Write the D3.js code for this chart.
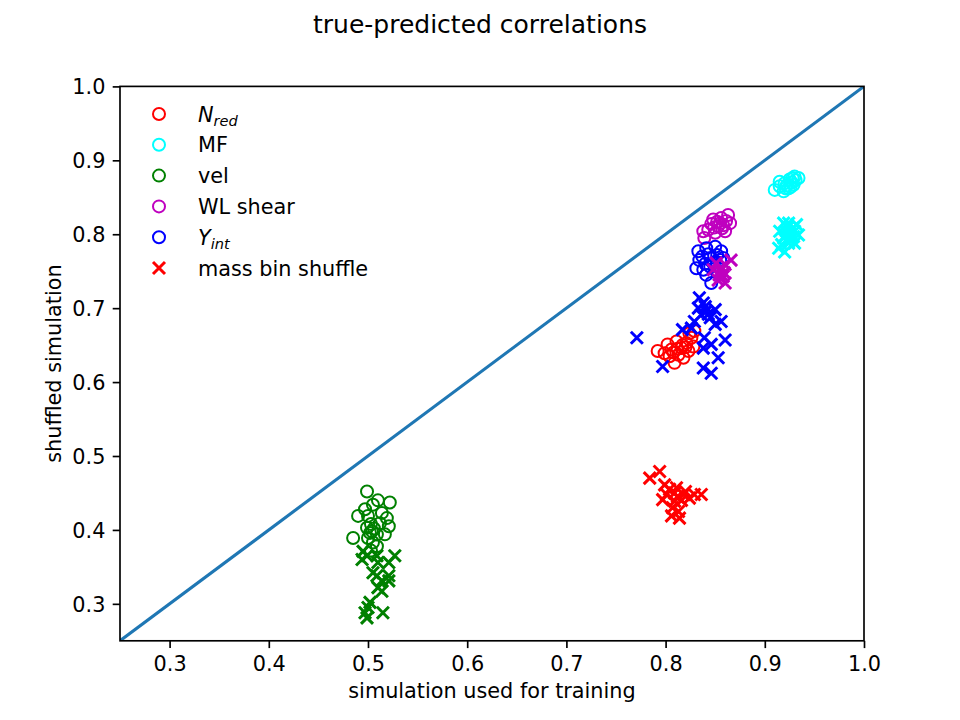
<!DOCTYPE html>
<html><head><meta charset="utf-8">
<script src="https://cdn.jsdelivr.net/npm/d3@7"></script>
<style>body{margin:0;background:#fff}svg{display:block}text{font-family:"DejaVu Sans",sans-serif}</style>
</head><body>
<script>
const xTicks = [0.3,0.4,0.5,0.6,0.7,0.8,0.9,1.0];
const yTicks = [0.3,0.4,0.5,0.6,0.7,0.8,0.9,1.0];
const seriesNames = ["N_red","MF","vel","WL shear","Y_int"];
const seriesColors = ["#ff0000","#00ffff","#008000","#bf00bf","#0000ff"];
// original (circles)
const nredOrig = [[0.792,0.642],[0.799,0.639],[0.809,0.626],[0.804,0.635],[0.802,0.651],[0.811,0.655],[0.816,0.646],[0.821,0.653],[0.828,0.648],[0.823,0.642],[0.813,0.637],[0.826,0.660],[0.829,0.669],[0.824,0.666],[0.806,0.644],[0.818,0.633],[0.812,0.645],[0.817,0.650],[0.808,0.640],[0.820,0.647]];
const mfOrig = [[0.910,0.860],[0.915,0.865],[0.920,0.869],[0.925,0.874],[0.930,0.878],[0.934,0.876],[0.924,0.862],[0.919,0.858],[0.929,0.867],[0.915,0.871],[0.922,0.866],[0.927,0.870],[0.926,0.864],[0.931,0.873],[0.921,0.862],[0.928,0.876]];
const velOrig = [[0.499,0.452],[0.510,0.440],[0.522,0.437],[0.505,0.434],[0.497,0.428],[0.490,0.419],[0.500,0.419],[0.519,0.416],[0.514,0.423],[0.521,0.405],[0.499,0.403],[0.504,0.398],[0.509,0.394],[0.517,0.394],[0.485,0.389],[0.500,0.389],[0.505,0.383],[0.509,0.378],[0.503,0.372],[0.506,0.402],[0.503,0.408],[0.512,0.409],[0.502,0.396]];
const wlOrig = [[0.848,0.820],[0.856,0.822],[0.863,0.826],[0.865,0.815],[0.853,0.811],[0.843,0.806],[0.838,0.804],[0.850,0.802],[0.860,0.804],[0.839,0.795],[0.858,0.812],[0.846,0.814],[0.852,0.817],[0.857,0.808],[0.861,0.818],[0.849,0.809],[0.855,0.815]];
const yintOrig = [[0.833,0.777],[0.841,0.781],[0.850,0.783],[0.856,0.777],[0.834,0.765],[0.845,0.768],[0.855,0.765],[0.831,0.754],[0.838,0.752],[0.845,0.756],[0.851,0.750],[0.846,0.734],[0.841,0.745],[0.858,0.768],[0.843,0.773],[0.849,0.762],[0.837,0.770],[0.852,0.772],[0.840,0.760]];
// mass bin shuffle (crosses)
const nredShuf = [[0.794,0.479],[0.784,0.470],[0.799,0.461],[0.804,0.455],[0.811,0.457],[0.801,0.448],[0.818,0.448],[0.829,0.448],[0.836,0.448],[0.824,0.443],[0.797,0.441],[0.809,0.439],[0.807,0.430],[0.813,0.425],[0.806,0.419],[0.814,0.416],[0.812,0.445],[0.816,0.440],[0.809,0.450],[0.820,0.452]];
const mfShuf = [[0.914,0.781],[0.919,0.815],[0.924,0.815],[0.932,0.813],[0.915,0.804],[0.922,0.804],[0.930,0.804],[0.934,0.799],[0.919,0.795],[0.927,0.795],[0.924,0.788],[0.930,0.788],[0.917,0.786],[0.926,0.800],[0.920,0.776],[0.923,0.809],[0.928,0.808],[0.921,0.799],[0.929,0.797],[0.925,0.792]];
const velShuf = [[0.495,0.371],[0.499,0.365],[0.494,0.360],[0.509,0.365],[0.510,0.356],[0.527,0.365],[0.521,0.356],[0.505,0.342],[0.509,0.338],[0.521,0.338],[0.514,0.331],[0.521,0.331],[0.510,0.322],[0.514,0.317],[0.502,0.302],[0.500,0.295],[0.497,0.288],[0.499,0.281],[0.515,0.288]];
const wlShuf = [[0.866,0.765],[0.860,0.759],[0.855,0.750],[0.858,0.743],[0.853,0.738],[0.860,0.734],[0.848,0.752],[0.851,0.761],[0.856,0.755],[0.854,0.745],[0.859,0.748]];
const yintShuf = [[0.771,0.660],[0.834,0.714],[0.838,0.707],[0.833,0.700],[0.841,0.696],[0.850,0.698],[0.836,0.691],[0.845,0.687],[0.856,0.682],[0.850,0.678],[0.829,0.682],[0.817,0.671],[0.826,0.673],[0.839,0.660],[0.860,0.657],[0.846,0.651],[0.838,0.646],[0.853,0.633],[0.838,0.619],[0.846,0.612],[0.797,0.621],[0.840,0.702],[0.843,0.692]];
const origSets = [nredOrig, mfOrig, velOrig, wlOrig, yintOrig];
const shufSets = [nredShuf, mfShuf, velShuf, wlShuf, yintShuf];

const W = 960, H = 720;
const L = 120, R = 864, T = 86.4, B = 640.8;
const svg = d3.select("body").append("svg").attr("width", W).attr("height", H);
const x = d3.scaleLinear().domain([0.25, 1.0]).range([L, R]);
const y = d3.scaleLinear().domain([0.25, 1.0]).range([B, T]);

svg.append("defs").append("clipPath").attr("id","clip")
  .append("rect").attr("x",L).attr("y",T).attr("width",R-L).attr("height",B-T);

svg.append("text").attr("x", 480).attr("y", 33).attr("text-anchor","middle")
  .attr("font-size", 25).text("true-predicted correlations");

const plot = svg.append("g").attr("clip-path","url(#clip)");
plot.append("line").attr("x1", x(0.25)).attr("y1", y(0.25)).attr("x2", x(1.0)).attr("y2", y(1.0))
  .attr("stroke","#1f77b4").attr("stroke-width",3.1);

const rC = 6.0, dX = 6.0;
origSets.forEach((set, i) => {
  plot.selectAll(null).data(set).enter().append("circle")
    .attr("cx", d => x(d[0])).attr("cy", d => y(d[1])).attr("r", rC)
    .attr("fill","none").attr("stroke", seriesColors[i]).attr("stroke-width", 2);
});
function crossPath(cx, cy, s){ return `M${cx-s},${cy-s}L${cx+s},${cy+s}M${cx-s},${cy+s}L${cx+s},${cy-s}`; }
shufSets.forEach((set, i) => {
  plot.selectAll(null).data(set).enter().append("path")
    .attr("d", d => crossPath(x(d[0]), y(d[1]), dX))
    .attr("fill","none").attr("stroke", seriesColors[i]).attr("stroke-width", 3);
});

// axes
const xAxis = d3.axisBottom(x).tickValues(xTicks).tickFormat(d3.format(".1f")).tickSizeOuter(0).tickSize(7.3).tickPadding(5);
const yAxis = d3.axisLeft(y).tickValues(yTicks).tickFormat(d3.format(".1f")).tickSizeOuter(0).tickSize(7.3).tickPadding(5);
const gx = svg.append("g").attr("transform", `translate(0,${B})`).call(xAxis);
const gy = svg.append("g").attr("transform", `translate(${L},0)`).call(yAxis);
[gx, gy].forEach(g => {
  g.select(".domain").remove();
  g.selectAll(".tick line").attr("stroke","#000").attr("stroke-width",1.67);
  g.selectAll(".tick text").attr("font-size",20.8).attr("fill","#000").attr("font-family","DejaVu Sans");
});
gx.selectAll(".tick text").attr("dy", null).attr("y", 30);
gy.selectAll(".tick text").attr("dy", "0.36em").attr("x", -14.6);

svg.append("rect").attr("x",L).attr("y",T).attr("width",R-L).attr("height",B-T)
  .attr("fill","none").attr("stroke","#000").attr("stroke-width",1.67);

svg.append("text").attr("x", (L+R)/2).attr("y", 698).attr("text-anchor","middle")
  .attr("font-size",20.8).text("simulation used for training");
svg.append("text").attr("transform", `translate(61,${(T+B)/2}) rotate(-90)`).attr("text-anchor","middle")
  .attr("font-size",20.8).text("shuffled simulation");

// legend
const legY0 = 114, legDY = 30.8, legMX = 159, legTX = 198;
const leg = svg.append("g");
const legendLabels = [
  {main:"N", sub:"red"},
  {main:"MF"},
  {main:"vel"},
  {main:"WL shear"},
  {main:"Y", sub:"int"},
  {main:"mass bin shuffle"}
];
legendLabels.forEach((lab, i) => {
  const cy = legY0 + i*legDY;
  if (i < 5) {
    leg.append("circle").attr("cx", legMX).attr("cy", cy).attr("r", rC)
      .attr("fill","none").attr("stroke", seriesColors[i]).attr("stroke-width", 2);
  } else {
    leg.append("path").attr("d", crossPath(legMX, cy, dX)).attr("fill","none")
      .attr("stroke", seriesColors[0]).attr("stroke-width", 3);
  }
  const t = leg.append("text").attr("x", legTX).attr("y", cy + 7.5).attr("font-size", 20.8);
  if (lab.sub) {
    t.append("tspan").attr("font-style","italic").text(lab.main);
    t.append("tspan").attr("font-style","italic").attr("font-size", 14.6).attr("dy", 4.5).text(lab.sub);
  } else {
    t.text(lab.main);
  }
});
</script>
</body></html>
